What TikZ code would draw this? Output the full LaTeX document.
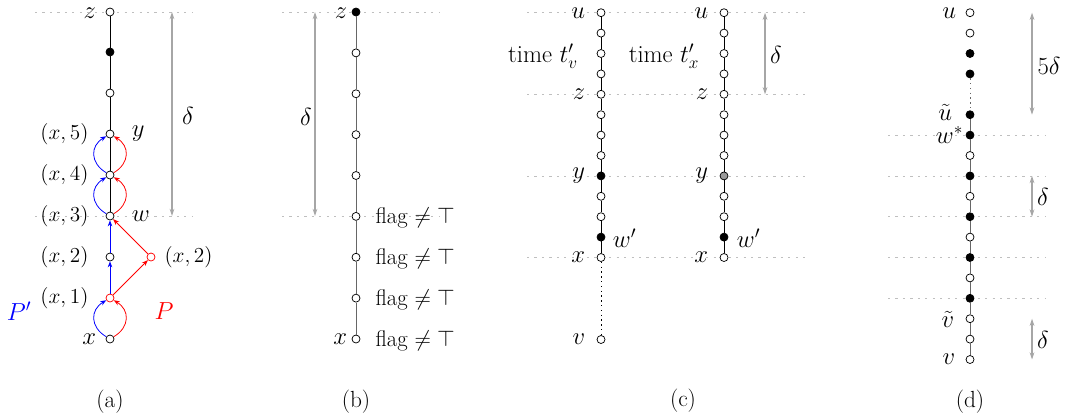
\RequirePackage{fix-cm}
\documentclass[tikz,border=0pt]{standalone}
\usetikzlibrary{arrows.meta}
\begin{document}
\begin{tikzpicture}[x=0.75pt,y=0.75pt,
  vtx/.style={circle,draw,fill=white,inner sep=0pt,minimum size=6pt,line width=0.55pt},
  bv/.style={vtx,fill=black},
  gv/.style={vtx,fill=black!40},
  guide/.style={draw=black!25,line width=0.6pt,dash pattern=on 1.6pt off 4pt},
  meas/.style={draw=black!35,line width=0.8pt,{Stealth[length=5.5pt,width=3.6pt]}-{Stealth[length=5.5pt,width=3.6pt]}},
  lbl/.style={font=\fontsize{18.5}{21}\selectfont,inner sep=0.5pt},
  sm/.style={font=\fontsize{16}{18}\selectfont,inner sep=1pt},
  fls/.style={font=\fontsize{17}{19}\selectfont,inner sep=1pt},
  captxt/.style={font=\fontsize{17.5}{20}\selectfont,inner sep=1pt},
  arr/.style={-{Stealth[length=4.5pt,width=3.4pt]},line width=0.6pt},
  edge/.style={line width=0.6pt},
  gedge/.style={draw=black!60,line width=0.6pt},
  dotl/.style={line width=0.6pt,dash pattern=on 1pt off 2.6pt}
]
\useasboundingbox (0,0) rectangle (1067,-419);

% ---------- guides ----------
\coordinate (ga1) at (35,-12);   \coordinate (ga2) at (192,-12);
\coordinate (ga3) at (35,-216);  \coordinate (ga4) at (192,-216);
\draw[guide] (ga1) -- (ga2); \draw[guide] (ga3) -- (ga4);
\coordinate (gb1) at (282,-12);  \coordinate (gb2) at (440,-12);
\coordinate (gb3) at (282,-216); \coordinate (gb4) at (440,-216);
\draw[guide] (gb1) -- (gb2); \draw[guide] (gb3) -- (gb4);
\foreach \yy/\nm in {12.7/1,94.3/2,175.9/3,257.5/4}{
  \coordinate (gcl\nm) at (527,-\yy); \coordinate (gcr\nm) at (806,-\yy);
  \draw[guide] (gcl\nm) -- (gcr\nm);}
\foreach \yy/\nm in {135.1/1,175.9/2,216.7/3,257.5/4,298.3/5}{
  \coordinate (gdl\nm) at (888,-\yy); \coordinate (gdr\nm) at (1045,-\yy);
  \draw[guide] (gdl\nm) -- (gdr\nm);}

% ---------- (a) ----------
\node[vtx] (a9) at (110,-12) {};
\node[bv]  (a8) at (110,-52) {};
\node[vtx] (a7) at (110,-93) {};
\node[vtx] (a5) at (110,-134) {};
\node[vtx] (a4) at (110,-175) {};
\node[vtx] (a3) at (110,-216) {};
\node[vtx] (a2) at (110,-257) {};
\node[vtx,draw=red] (a1) at (110,-298) {};
\node[vtx] (a0) at (110,-339) {};
\node[vtx,draw=red] (ar) at (151,-257) {};
\draw[edge] (a9) -- (a8) -- (a7) -- (a5) -- (a4) -- (a3);
\draw[blue,arr] (a1) -- (a2);
\draw[blue,arr] (a2) -- (a3);
\draw[red,arr] (a1) -- (ar);
\draw[red,arr] (ar) -- (a3);
\foreach \p/\q in {a0/a1,a3/a4,a4/a5}{
  \draw[blue,arr] (\p) .. controls +(-20,12) and +(-20,-12) .. (\q);
  \draw[red,arr] (\p) .. controls +(20,12) and +(20,-12) .. (\q);}
\node[lbl,anchor=east] (la9) at (97,-13) {$z$};
\node[lbl,anchor=west] (la5) at (131,-134) {$y$};
\node[lbl,anchor=west] (la3) at (131,-216) {$w$};
\node[lbl,anchor=east] (la0) at (97,-339) {$x$};
\node[sm,anchor=east] (lk5) at (90,-134) {$(x,5)$};
\node[sm,anchor=east] (lk4) at (90,-175) {$(x,4)$};
\node[sm,anchor=east] (lk3) at (90,-216) {$(x,3)$};
\node[sm,anchor=east] (lk2) at (90,-257) {$(x,2)$};
\node[sm,anchor=east] (lk1) at (90,-298) {$(x,1)$};
\node[sm,anchor=west] (lkr) at (163,-257) {$(x,2)$};
\node[lbl,text=blue] (lP1) at (19,-311) {$P'$};
\node[lbl,text=red] (lP) at (164,-311) {$P$};
\coordinate (ma1) at (172,-12); \coordinate (ma2) at (172,-216);
\draw[meas] (ma1) -- (ma2);
\node[lbl] (da) at (188,-116) {$\delta$};
\node[captxt] (capa) at (110,-402) {(a)};

% ---------- (b) ----------
\foreach \k/\s in {0/vtx,1/vtx,2/vtx,3/vtx,4/vtx,5/vtx,6/vtx,7/vtx,8/bv}{
  \node[\s] (b\k) at (356,{-339+40.875*\k}) {};}
\foreach \k in {0,...,7}{\pgfmathtruncatemacro{\n}{\k+1}\draw[gedge] (b\k) -- (b\n);}
\node[lbl,anchor=east] (lb8) at (348,-13) {$z$};
\node[lbl,anchor=east] (lb0) at (348,-339) {$x$};
\foreach \k in {0,1,2,3}{
  \node[fls,anchor=base west] (fl\k) at (374,{-339+40.875*\k-7}) {flag $\neq\top$};}
\coordinate (mb1) at (315,-12); \coordinate (mb2) at (315,-216);
\draw[meas] (mb1) -- (mb2);
\node[lbl] (db) at (306,-117) {$\delta$};
\node[captxt] (capb) at (356,-402) {(b)};

% ---------- (c) ----------
\foreach \k/\s in {0/vtx,1/vtx,2/vtx,3/vtx,4/vtx,5/vtx,6/vtx,7/vtx,8/bv,9/vtx,10/vtx,11/bv,12/vtx}{
  \node[\s] (c\k) at (601,{-12.7-20.4*\k}) {};}
\foreach \k/\s in {0/vtx,1/vtx,2/vtx,3/vtx,4/vtx,5/vtx,6/vtx,7/vtx,8/gv,9/vtx,10/vtx,11/bv,12/vtx}{
  \node[\s] (r\k) at (724,{-12.7-20.4*\k}) {};}
\node[vtx] (cv) at (601,-339.5) {};
\foreach \k in {0,...,11}{\pgfmathtruncatemacro{\n}{\k+1}
  \draw[edge] (c\k) -- (c\n); \draw[edge] (r\k) -- (r\n);}
\draw[dotl] (c12) -- (cv);
\node[lbl,anchor=east] (lcu) at (586,-13) {$u$};
\node[lbl,anchor=east] (lcz) at (586,-94.3) {$z$};
\node[lbl,anchor=east] (lcy) at (586,-175.9) {$y$};
\node[lbl,anchor=east] (lcx) at (586,-257.5) {$x$};
\node[lbl,anchor=east] (lcv) at (586,-339.5) {$v$};
\node[lbl,anchor=east] (lru) at (709,-13) {$u$};
\node[lbl,anchor=east] (lrz) at (709,-94.3) {$z$};
\node[lbl,anchor=east] (lry) at (709,-175.9) {$y$};
\node[lbl,anchor=east] (lrx) at (709,-257.5) {$x$};
\node[lbl,anchor=base] (tv) at (543,-62) {time $t'_v$};
\node[lbl,anchor=base] (tx) at (664,-62) {time $t'_x$};
\node[lbl,anchor=west] (lcw) at (612,-238) {$w'$};
\node[lbl,anchor=west] (lrw) at (736,-238) {$w'$};
\coordinate (mc1) at (765,-12.7); \coordinate (mc2) at (765,-94.3);
\draw[meas] (mc1) -- (mc2);
\node[lbl] (dc) at (776,-55) {$\delta$};
\node[captxt] (capc) at (683,-401) {(c)};

% ---------- (d) ----------
\foreach \k/\s in {0/vtx,1/vtx,2/bv,3/bv,5/bv,6/bv,7/vtx,8/bv,9/vtx,10/bv,11/vtx,12/bv,13/vtx,14/bv,15/vtx,16/vtx,17/vtx}{
  \node[\s] (e\k) at (970,{-12.7-20.4*\k}) {};}
\draw[dotl,draw=black!60] (e3) -- (e5);
\foreach \k in {5,...,16}{\pgfmathtruncatemacro{\n}{\k+1}\draw[gedge] (e\k) -- (e\n);}
\node[lbl,anchor=east] (ldu) at (957,-13) {$u$};
\node[lbl,anchor=east] (ldut) at (953,-112) {$\tilde u$};
\node[lbl,anchor=east] (ldw) at (964,-135) {$w^*$};
\node[lbl,anchor=east] (ldvt) at (955,-319.5) {$\tilde v$};
\node[lbl,anchor=east] (ldv) at (956,-359.5) {$v$};
\coordinate (md1) at (1032,-12.7); \coordinate (md2) at (1032,-114.7);
\draw[meas] (md1) -- (md2);
\node[lbl] (d5) at (1049,-66) {$5\delta$};
\coordinate (md3) at (1032,-175.9); \coordinate (md4) at (1032,-216.7);
\draw[meas] (md3) -- (md4);
\node[lbl] (dd1) at (1043,-197) {$\delta$};
\coordinate (md5) at (1032,-318.7); \coordinate (md6) at (1032,-359.5);
\draw[meas] (md5) -- (md6);
\node[lbl] (dd2) at (1043,-340) {$\delta$};
\node[captxt] (capd) at (970,-402) {(d)};
\end{tikzpicture}
\end{document}
